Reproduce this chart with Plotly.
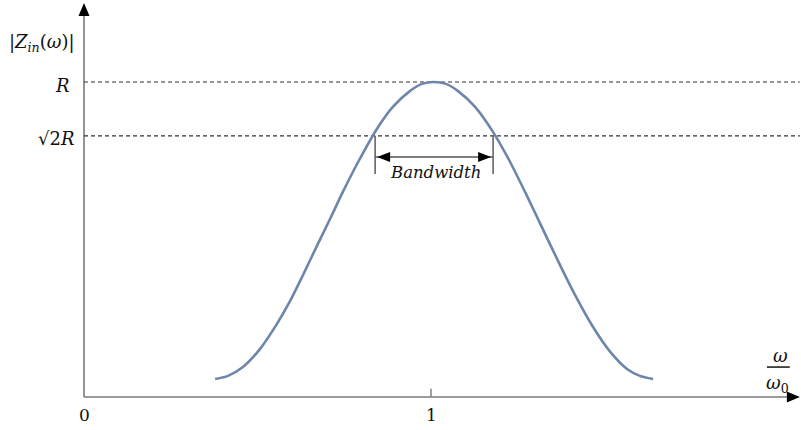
import plotly.graph_objects as go

# Normalised frequency (omega / omega_0) and |Z_in| relative to R
freq_ratio = [0.378, 0.415, 0.458, 0.507, 0.556, 0.594, 0.631, 0.674, 0.709, 0.746,
              0.790, 0.844, 0.890, 0.939, 0.974, 1.009, 1.043, 1.078, 1.127, 1.179,
              1.228, 1.271, 1.314, 1.366, 1.415, 1.467, 1.516, 1.565, 1.602, 1.640]
impedance = [0.057, 0.067, 0.095, 0.152, 0.232, 0.305, 0.387, 0.486, 0.565, 0.651,
             0.746, 0.851, 0.921, 0.971, 0.994, 1.000, 0.994, 0.971, 0.921, 0.841,
             0.746, 0.651, 0.552, 0.432, 0.324, 0.222, 0.144, 0.089, 0.067, 0.057]

# Reference levels and half-power crossing points
level_R = 1.0
level_half = 0.829
band_edges = [0.839, 1.179]
x_ticks = [0, 1]
x_tick_labels = ["0", "1"]

X_MIN, X_MAX = -0.2421, 2.0663
Y_MIN, Y_MAX = -0.1048, 1.2603
X_END = 2.063      # tip of the horizontal axis arrow
Y_END = 1.251      # tip of the vertical axis arrow

SERIF = "DejaVu Serif"
AXIS_COLOR = "#7a7a7a"

fig = go.Figure()

fig.add_trace(go.Scatter(
    x=freq_ratio, y=impedance, mode="lines",
    line=dict(color="#6d86aa", width=2.6, shape="spline", smoothing=0.7),
    hoverinfo="skip", showlegend=False,
))

shapes = []
# axes
shapes.append(dict(type="line", x0=0, x1=0, y0=0, y1=Y_END - 0.02,
                   line=dict(color=AXIS_COLOR, width=1.6), layer="below"))
shapes.append(dict(type="line", x0=0, x1=X_END - 0.02, y0=0, y1=0,
                   line=dict(color=AXIS_COLOR, width=1.6), layer="below"))
# arrowheads of the axes (pixel-sized triangles)
shapes.append(dict(type="path", xsizemode="pixel", ysizemode="pixel",
                   xanchor=0, yanchor=Y_END,
                   path="M -5.5,-13 L 0,0 L 5.5,-13 Z",
                   fillcolor="black", line=dict(width=0)))
shapes.append(dict(type="path", xsizemode="pixel", ysizemode="pixel",
                   xanchor=X_END, yanchor=0,
                   path="M -13,-5.5 L 0,0 L -13,5.5 Z",
                   fillcolor="black", line=dict(width=0)))
# dashed reference levels
for lvl in (level_R, level_half):
    shapes.append(dict(type="line", x0=0, x1=X_END, y0=lvl, y1=lvl,
                       line=dict(color="#333333", width=1.1, dash="4px,3px"),
                       layer="below"))
# tick at x = 1
shapes.append(dict(type="line", x0=1, x1=1, y0=0, y1=0.026,
                   line=dict(color=AXIS_COLOR, width=1.4)))
# bandwidth markers
bw_y = 0.762
for xe in band_edges:
    shapes.append(dict(type="line", x0=xe, x1=xe, y0=level_half, y1=0.708,
                       line=dict(color="#666666", width=1.6)))
shapes.append(dict(type="line", x0=band_edges[0], x1=band_edges[1], y0=bw_y, y1=bw_y,
                   line=dict(color="#555555", width=1.6)))
shapes.append(dict(type="path", xsizemode="pixel", ysizemode="pixel",
                   xanchor=band_edges[0], yanchor=bw_y,
                   path="M 2,0 L 15,5 L 15,-5 Z",
                   fillcolor="black", line=dict(width=0)))
shapes.append(dict(type="path", xsizemode="pixel", ysizemode="pixel",
                   xanchor=band_edges[1], yanchor=bw_y,
                   path="M -2,0 L -15,5 L -15,-5 Z",
                   fillcolor="black", line=dict(width=0)))
# fraction bar of the x-axis title
shapes.append(dict(type="line", x0=1.968, x1=2.034, y0=0.095, y1=0.095,
                   line=dict(color="#222222", width=1.6)))

annotations = []


def label(text, x, y, size=17, xanchor="center"):
    annotations.append(dict(text=text, x=x, y=y, xref="x", yref="y",
                            showarrow=False, xanchor=xanchor, yanchor="middle",
                            font=dict(family=SERIF, size=size, color="#111111")))


label("|<i>Z</i><sub><i>in</i></sub>(<i>ω</i>)|", -0.12, 1.124, size=18)
label("<i>R</i>", -0.063, 0.988, size=18)
label("√2<i>R</i>", -0.08, 0.822, size=18)
label("<i>Bandwidth</i>", 1.013, 0.714, size=16.5)
for xt, lt in zip(x_ticks, x_tick_labels):
    label(lt, xt, -0.057, size=17)
label("<i>ω</i>", 2.006, 0.133, size=18)
label("<i>ω</i><sub>0</sub>", 2.0, 0.04, size=18)

fig.update_layout(
    width=801, height=430,
    margin=dict(l=0, r=0, t=0, b=0),
    paper_bgcolor="white", plot_bgcolor="white",
    xaxis=dict(range=[X_MIN, X_MAX], visible=False, fixedrange=True),
    yaxis=dict(range=[Y_MIN, Y_MAX], visible=False, fixedrange=True),
    shapes=shapes, annotations=annotations,
    showlegend=False,
)

fig.write_html("out.html")
